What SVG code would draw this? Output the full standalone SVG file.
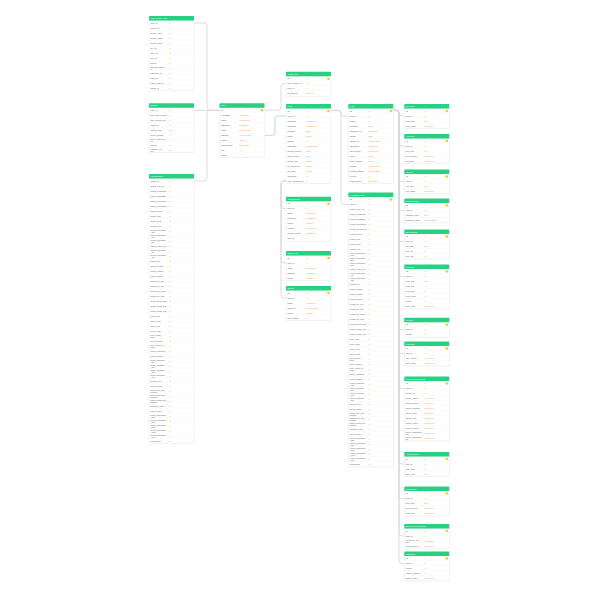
<svg xmlns="http://www.w3.org/2000/svg" width="600" height="600" viewBox="0 0 600 600">
<style>
text{font-family:"Liberation Sans",Arial,sans-serif}
.hd{fill:#27d182}
.ht{fill:#ffffff;font-size:2.2px}
.bd{fill:url(#rows);stroke:#e4e4e4;stroke-width:0.4}
.f{fill:#555;font-size:2.1px}
.s{font-size:1.8px}
.ty{font-size:2.1px}
.i{fill:#f0c640}
.v{fill:#f39a3e}
.t{fill:#3fc2b2}
.cn{fill:none;stroke:#d8d8d8;stroke-width:0.9}
.cb{fill:none;stroke:#b5d5f3;stroke-width:0.9}
</style>
<defs>
<pattern id="rows" x="0" y="4.5" width="45" height="5" patternUnits="userSpaceOnUse">
<rect width="45" height="5" fill="#fff"/>
<line x1="0" y1="4.8" x2="45" y2="4.8" stroke="#f0f0f0" stroke-width="0.4"/>
</pattern>
<circle id="key" r="1.3" fill="#f7c52c"/>
</defs>
<rect width="600" height="600" fill="#fff"/>

<g id="connectors">
<path class="cn" d="M194,23 H204 Q207,23 207,26 V107.3 Q207,110.3 210,110.3 H219.5"/>
<path class="cn" d="M194,110.3 H219.5"/>
<path class="cn" d="M194,181 H204 Q207,181 207,178 V113.3 Q207,110.3 210,110.3 H219.5"/>
<path class="cn" d="M264.5,110.3 H278 Q281,110.3 281,107.3 V86.7 Q281,83.7 284,83.7 H286"/>
<path class="cb" d="M264.5,135.3 H272 Q275,135.3 275,132.3 V119 Q275,116 278,116 H286"/>
<path class="cn" d="M286,181 H284 Q281,181 281,184 V205.7 Q281,208.7 284,208.7 H286"/>
<path class="cn" d="M286,181 H284 Q281,181 281,184 V260 Q281,263 284,263 H286"/>
<path class="cn" d="M286,181 H284 Q281,181 281,184 V295 Q281,298 284,298 H286"/>
<path class="cn" d="M331,110.3 H338 Q341,110.3 341,113.2 Q341,116 344,116 H348.3"/>
<path class="cn" d="M331,110.3 H338 Q341,110.3 341,113.3 V201.5 Q341,204.5 344,204.5 H348.3"/>
<path class="cn" d="M393.3,110.3 H396 Q399,110.3 399,113.2 Q399,116 402,116 H404.3"/>
<path class="cn" d="M393.3,110.3 H396 Q399,110.3 399,113.3 V143 Q399,146 402,146 H404.3"/>
<path class="cn" d="M393.3,110.3 H396 Q399,110.3 399,113.3 V178.5 Q399,181.5 402,181.5 H404.3"/>
<path class="cn" d="M393.3,110.3 H396 Q399,110.3 399,113.3 V207.5 Q399,210.5 402,210.5 H404.3"/>
<path class="cn" d="M393.3,110.3 H396 Q399,110.3 399,113.3 V238.5 Q399,241.5 402,241.5 H404.3"/>
<path class="cn" d="M393.3,110.3 H396 Q399,110.3 399,113.3 V273.5 Q399,276.5 402,276.5 H404.3"/>
<path class="cn" d="M393.3,110.3 H396 Q399,110.3 399,113.3 V326.7 Q399,329.7 402,329.7 H404.3"/>
<path class="cn" d="M393.3,110.3 H396 Q399,110.3 399,113.3 V350.5 Q399,353.5 402,353.5 H404.3"/>
<path class="cn" d="M393.3,110.3 H396 Q399,110.3 399,113.3 V385.5 Q399,388.5 402,388.5 H404.3"/>
<path class="cn" d="M393.3,110.3 H396 Q399,110.3 399,113.3 V461 Q399,464 402,464 H404.3"/>
<path class="cn" d="M393.3,110.3 H396 Q399,110.3 399,113.3 V495.5 Q399,498.5 402,498.5 H404.3"/>
<path class="cn" d="M393.3,110.3 H396 Q399,110.3 399,113.3 V533 Q399,536 402,536 H404.3"/>
<path class="cn" d="M393.3,110.3 H396 Q399,110.3 399,113.3 V560.5 Q399,563.5 402,563.5 H404.3"/>
</g>

<g id="t-user-device" transform="translate(149,16)">
<rect class="bd" y="4.5" width="45" height="70"/>
<rect class="hd" width="45" height="4.5" rx="0.6"/>
<text class="ht" x="1.5" y="3.2">user_device_info</text>
<text class="f"><tspan x="1.5" y="7.75">user_id</tspan><tspan x="1.5" y="12.75">device_id</tspan><tspan x="1.5" y="17.75">device_type</tspan><tspan x="1.5" y="22.75">device_name</tspan><tspan x="1.5" y="27.75">device_mac</tspan><tspan x="1.5" y="32.75">fw_ver</tspan><tspan x="1.5" y="37.75">app_ver</tspan><tspan x="1.5" y="42.75">os_ver</tspan><tspan x="1.5" y="47.75">brand</tspan><tspan class="s" x="1.5" y="51.8">language_setting_</tspan><tspan class="s" x="1.5" y="53.8">id</tspan><tspan x="1.5" y="57.75">timezone_id</tspan><tspan x="1.5" y="62.75">push_id</tspan><tspan x="1.5" y="67.75">push_token_id</tspan><tspan x="1.5" y="72.75">status_id</tspan></text>
<text class="ty"><tspan class="i" x="20" y="7.75">int</tspan><tspan class="i" x="20" y="12.75">int</tspan><tspan class="i" x="20" y="17.75">int</tspan><tspan class="i" x="20" y="22.75">int</tspan><tspan class="i" x="20" y="27.75">int</tspan><tspan class="i" x="20" y="32.75">int</tspan><tspan class="i" x="20" y="37.75">int</tspan><tspan class="i" x="20" y="42.75">int</tspan><tspan class="i" x="20" y="47.75">int</tspan><tspan class="i" x="20" y="52.75">int</tspan><tspan class="i" x="20" y="57.75">int</tspan><tspan class="i" x="20" y="62.75">int</tspan><tspan class="i" x="20" y="67.75">int</tspan><tspan class="i" x="20" y="72.75">int</tspan></text>
</g>

<g id="t-setting" transform="translate(149,103.3)">
<rect class="bd" y="4.5" width="45" height="45"/>
<rect class="hd" width="45" height="4.5" rx="0.6"/>
<text class="ht" x="1.5" y="3.2">Setting</text>
<text class="f"><tspan x="1.5" y="7.75">user_id</tspan><tspan x="1.5" y="12.75">day_remind_hour</tspan><tspan x="1.5" y="17.75">day_remind_min</tspan><tspan x="1.5" y="22.75">unitType</tspan><tspan x="1.5" y="27.75">remind_time</tspan><tspan x="1.5" y="32.75">sleep_remind</tspan><tspan class="s" x="1.5" y="36.8">sleep_remind_time_</tspan><tspan class="s" x="1.5" y="38.8">set</tspan><tspan x="1.5" y="42.75">remind</tspan><tspan class="s" x="1.5" y="46.8">reminder_rule_</tspan><tspan class="s" x="1.5" y="48.8">set</tspan></text>
<text class="ty"><tspan class="i" x="20" y="7.75">int</tspan><tspan class="i" x="20" y="12.75">int</tspan><tspan class="i" x="20" y="17.75">int</tspan><tspan class="i" x="20" y="22.75">int</tspan><tspan class="v" x="20" y="27.75">time</tspan><tspan class="i" x="20" y="32.75">int</tspan><tspan class="i" x="20" y="37.75">int</tspan><tspan class="i" x="20" y="42.75">int</tspan><tspan class="v" x="20" y="47.75">text</tspan></text>
</g>

<g id="t-health-history" transform="translate(149,174)">
<rect class="bd" y="4.5" width="45" height="265"/>
<rect class="hd" width="45" height="4.5" rx="0.6"/>
<text class="ht" x="1.5" y="3.2">HealthHistory</text>
<text class="f"><tspan x="1.5" y="7.75">health_id</tspan><tspan x="1.5" y="12.75">health_user_id</tspan><tspan x="1.5" y="17.75">health_heartRate</tspan><tspan x="1.5" y="22.75">health_bloodO2</tspan><tspan x="1.5" y="27.75">health_sleepTime</tspan><tspan x="1.5" y="32.75">health_deepSleep</tspan><tspan x="1.5" y="37.75">health_steps</tspan><tspan x="1.5" y="42.75">health_dist</tspan><tspan x="1.5" y="47.75">health_kcal</tspan><tspan x="1.5" y="52.75">health_rest</tspan><tspan class="s" x="1.5" y="56.8">health_temperature</tspan><tspan class="s" x="1.5" y="58.8">_max</tspan><tspan class="s" x="1.5" y="61.8">health_temperature</tspan><tspan class="s" x="1.5" y="63.8">_min</tspan><tspan class="s" x="1.5" y="66.8">health_temperature</tspan><tspan class="s" x="1.5" y="68.8">_avg</tspan><tspan x="1.5" y="72.75">health_temp_cur</tspan><tspan class="s" x="1.5" y="76.8">health_temperature</tspan><tspan class="s" x="1.5" y="78.8">_val</tspan><tspan class="s" x="1.5" y="81.8">health_temperature</tspan><tspan class="s" x="1.5" y="83.8">_unit</tspan><tspan x="1.5" y="87.75">health_hrv</tspan><tspan x="1.5" y="92.75">health_stress</tspan><tspan x="1.5" y="97.75">health_fatigue</tspan><tspan x="1.5" y="102.75">health_mood</tspan><tspan x="1.5" y="107.75">health_bp_sys</tspan><tspan x="1.5" y="112.75">health_bp_dia</tspan><tspan x="1.5" y="117.75">health_bp_pulse</tspan><tspan x="1.5" y="122.75">health_bp_time</tspan><tspan x="1.5" y="127.75">health_spo2_max</tspan><tspan x="1.5" y="132.75">health_spo2_min</tspan><tspan x="1.5" y="137.75">health_spo2_avg</tspan><tspan x="1.5" y="142.75">heart_avg</tspan><tspan x="1.5" y="147.75">sleep_start</tspan><tspan x="1.5" y="152.75">sleep_end</tspan><tspan x="1.5" y="157.75">sleep_total</tspan><tspan class="s" x="1.5" y="161.8">sleep_quality_</tspan><tspan class="s" x="1.5" y="163.8">score</tspan><tspan x="1.5" y="167.75">sleep_awake</tspan><tspan class="s" x="1.5" y="171.8">sleep_latency_of_</tspan><tspan class="s" x="1.5" y="173.8">onset</tspan><tspan x="1.5" y="177.75">sleep_efficiency</tspan><tspan x="1.5" y="182.75">sleep_stages</tspan><tspan class="s" x="1.5" y="186.8">health_respiratory</tspan><tspan class="s" x="1.5" y="188.8">_rate</tspan><tspan class="s" x="1.5" y="191.8">health_respiratory</tspan><tspan class="s" x="1.5" y="193.8">_min</tspan><tspan class="s" x="1.5" y="196.8">health_respiratory</tspan><tspan class="s" x="1.5" y="198.8">_max</tspan><tspan class="s" x="1.5" y="201.8">health_respiratory</tspan><tspan class="s" x="1.5" y="203.8">_avg</tspan><tspan x="1.5" y="207.75">stress_level</tspan><tspan x="1.5" y="212.75">stress_score</tspan><tspan class="s" x="1.5" y="216.8">stress_relax_time_</tspan><tspan class="s" x="1.5" y="218.8">minutes</tspan><tspan class="s" x="1.5" y="221.8">stress_tense_time_</tspan><tspan class="s" x="1.5" y="223.8">minutes</tspan><tspan class="s" x="1.5" y="226.8">stress_normal_time_</tspan><tspan class="s" x="1.5" y="228.8">minutes</tspan><tspan x="1.5" y="232.75">measure_time</tspan><tspan x="1.5" y="237.75">sleep_score</tspan><tspan class="s" x="1.5" y="241.8">health_temperature</tspan><tspan class="s" x="1.5" y="243.8">_data</tspan><tspan class="s" x="1.5" y="246.8">health_temperature</tspan><tspan class="s" x="1.5" y="248.8">_skin</tspan><tspan class="s" x="1.5" y="251.8">health_temperature</tspan><tspan class="s" x="1.5" y="253.8">_body</tspan><tspan class="s" x="1.5" y="256.8">health_temperature</tspan><tspan class="s" x="1.5" y="258.8">_room</tspan><tspan class="s" x="1.5" y="261.8">health_temperature</tspan><tspan class="s" x="1.5" y="263.8">_core</tspan><tspan x="1.5" y="267.75">createTime</tspan></text>
<text class="ty"><tspan class="i" x="20" y="7.75">int</tspan><tspan class="i" x="20" y="12.75">int</tspan><tspan class="i" x="20" y="17.75">int</tspan><tspan class="i" x="20" y="22.75">int</tspan><tspan class="i" x="20" y="27.75">int</tspan><tspan class="i" x="20" y="32.75">int</tspan><tspan class="i" x="20" y="37.75">int</tspan><tspan class="i" x="20" y="42.75">int</tspan><tspan class="i" x="20" y="47.75">int</tspan><tspan class="i" x="20" y="52.75">int</tspan><tspan class="i" x="20" y="57.75">int</tspan><tspan class="i" x="20" y="62.75">int</tspan><tspan class="i" x="20" y="67.75">int</tspan><tspan class="i" x="20" y="72.75">int</tspan><tspan class="i" x="20" y="77.75">int</tspan><tspan class="i" x="20" y="82.75">int</tspan><tspan class="i" x="20" y="87.75">int</tspan><tspan class="i" x="20" y="92.75">int</tspan><tspan class="i" x="20" y="97.75">int</tspan><tspan class="i" x="20" y="102.75">int</tspan><tspan class="i" x="20" y="107.75">int</tspan><tspan class="i" x="20" y="112.75">int</tspan><tspan class="i" x="20" y="117.75">int</tspan><tspan class="i" x="20" y="122.75">int</tspan><tspan class="i" x="20" y="127.75">int</tspan><tspan class="i" x="20" y="132.75">int</tspan><tspan class="i" x="20" y="137.75">int</tspan><tspan class="i" x="20" y="142.75">int</tspan><tspan class="i" x="20" y="147.75">int</tspan><tspan class="i" x="20" y="152.75">int</tspan><tspan class="i" x="20" y="157.75">int</tspan><tspan class="i" x="20" y="162.75">int</tspan><tspan class="i" x="20" y="167.75">int</tspan><tspan class="i" x="20" y="172.75">int</tspan><tspan class="i" x="20" y="177.75">int</tspan><tspan class="i" x="20" y="182.75">int</tspan><tspan class="i" x="20" y="187.75">int</tspan><tspan class="i" x="20" y="192.75">int</tspan><tspan class="i" x="20" y="197.75">int</tspan><tspan class="i" x="20" y="202.75">int</tspan><tspan class="i" x="20" y="207.75">int</tspan><tspan class="i" x="20" y="212.75">int</tspan><tspan class="i" x="20" y="217.75">int</tspan><tspan class="i" x="20" y="222.75">int</tspan><tspan class="i" x="20" y="227.75">int</tspan><tspan class="i" x="20" y="232.75">int</tspan><tspan class="i" x="20" y="237.75">int</tspan><tspan class="i" x="20" y="242.75">int</tspan><tspan class="i" x="20" y="247.75">int</tspan><tspan class="i" x="20" y="252.75">int</tspan><tspan class="i" x="20" y="257.75">int</tspan><tspan class="i" x="20" y="262.75">int</tspan><tspan class="i" x="20" y="267.75">int</tspan></text>
</g>

<g id="t-user" transform="translate(219.5,103.3)">
<rect class="bd" y="4.5" width="45" height="50"/>
<rect class="hd" width="45" height="4.5" rx="0.6"/>
<text class="ht" x="1.5" y="3.2">User</text>
<text class="f"><tspan x="1.5" y="7.75">id</tspan><tspan x="1.5" y="12.75">username</tspan><tspan x="1.5" y="17.75">phone</tspan><tspan x="1.5" y="22.75">password</tspan><tspan x="1.5" y="27.75">email</tspan><tspan x="1.5" y="32.75">address</tspan><tspan x="1.5" y="37.75">avatar</tspan><tspan x="1.5" y="42.75">registerTime</tspan><tspan x="1.5" y="47.75">role</tspan><tspan x="1.5" y="52.75">status</tspan></text>
<text class="ty"><tspan class="i" x="20" y="7.75">int</tspan><tspan class="v" x="20" y="12.75">varchar(64)</tspan><tspan class="v" x="20" y="17.75">varchar(32)</tspan><tspan class="v" x="20" y="22.75">varchar(64)</tspan><tspan class="v" x="20" y="27.75">varchar(128)</tspan><tspan class="v" x="20" y="32.75">varchar(128)</tspan><tspan class="v" x="20" y="37.75">image</tspan><tspan class="v" x="20" y="42.75">timestamp</tspan><tspan class="i" x="20" y="47.75">int</tspan><tspan class="i" x="20" y="52.75">int</tspan></text>
<use href="#key" x="42.5" y="7"/>
</g>

<g id="t-user-family" transform="translate(286,71.7)">
<rect class="bd" y="4.5" width="45" height="20"/>
<rect class="hd" width="45" height="4.5" rx="0.6"/>
<text class="ht" x="1.5" y="3.2">UserFamily</text>
<text class="f"><tspan x="1.5" y="7.75">ID</tspan><tspan x="1.5" y="12.75">user_parent_id</tspan><tspan x="1.5" y="17.75">kids_id</tspan><tspan x="1.5" y="22.75">createTime</tspan></text>
<text class="ty"><tspan class="i" x="20" y="7.75">int</tspan><tspan class="i" x="20" y="12.75">int</tspan><tspan class="i" x="20" y="17.75">int</tspan><tspan class="v" x="20" y="22.75">datetime</tspan></text>
<use href="#key" x="42.5" y="7"/>
</g>

<g id="t-kids" transform="translate(286,104)">
<rect class="bd" y="4.5" width="45" height="75"/>
<rect class="hd" width="45" height="4.5" rx="0.6"/>
<text class="ht" x="1.5" y="3.2">Kids</text>
<text class="f"><tspan x="1.5" y="7.75">ID</tspan><tspan x="1.5" y="12.75">user_id</tspan><tspan x="1.5" y="17.75">firstname</tspan><tspan x="1.5" y="22.75">lastname</tspan><tspan x="1.5" y="27.75">birthday</tspan><tspan x="1.5" y="32.75">photo</tspan><tspan x="1.5" y="37.75">gender</tspan><tspan x="1.5" y="42.75">nickname</tspan><tspan x="1.5" y="47.75">height_percent</tspan><tspan x="1.5" y="52.75">skin_percent</tspan><tspan x="1.5" y="57.75">weight_unit</tspan><tspan x="1.5" y="62.75">bp_sensitivity</tspan><tspan x="1.5" y="67.75">bp_value</tspan><tspan x="1.5" y="72.75">resolution</tspan><tspan x="1.5" y="77.75">user_guardian_id</tspan></text>
<text class="ty"><tspan class="i" x="20" y="7.75">int</tspan><tspan class="i" x="20" y="12.75">int</tspan><tspan class="v" x="20" y="17.75">varchar(64)</tspan><tspan class="v" x="20" y="22.75">varchar(64)</tspan><tspan class="t" x="20" y="27.75">date</tspan><tspan class="v" x="20" y="32.75">image</tspan><tspan class="i" x="20" y="37.75">int</tspan><tspan class="v" x="20" y="42.75">varchar(128)</tspan><tspan class="t" x="20" y="47.75">float</tspan><tspan class="t" x="20" y="52.75">float</tspan><tspan class="v" x="20" y="57.75">double</tspan><tspan class="v" x="20" y="62.75">double</tspan><tspan class="v" x="20" y="67.75">double</tspan><tspan class="i" x="20" y="72.75">int</tspan><tspan class="i" x="20" y="77.75">int</tspan></text>
<use href="#key" x="42.5" y="7"/>
</g>

<g id="t-guardian" transform="translate(286,196.7)">
<rect class="bd" y="4.5" width="45" height="40"/>
<rect class="hd" width="45" height="4.5" rx="0.6"/>
<text class="ht" x="1.5" y="3.2">GuardianInfo</text>
<text class="f"><tspan x="1.5" y="7.75">ID</tspan><tspan x="1.5" y="12.75">kids_id</tspan><tspan x="1.5" y="17.75">name</tspan><tspan x="1.5" y="22.75">nickname</tspan><tspan x="1.5" y="27.75">phone</tspan><tspan x="1.5" y="32.75">relation</tspan><tspan x="1.5" y="37.75">contact_phone</tspan><tspan x="1.5" y="42.75">face_id</tspan></text>
<text class="ty"><tspan class="i" x="20" y="7.75">int</tspan><tspan class="i" x="20" y="12.75">int</tspan><tspan class="v" x="20" y="17.75">varchar(64)</tspan><tspan class="v" x="20" y="22.75">varchar(64)</tspan><tspan class="v" x="20" y="27.75">varchar</tspan><tspan class="v" x="20" y="32.75">varchar(64)</tspan><tspan class="v" x="20" y="37.75">varchar(64)</tspan><tspan class="i" x="20" y="42.75">int</tspan></text>
<use href="#key" x="42.5" y="7"/>
</g>

<g id="t-emergency" transform="translate(286,251)">
<rect class="bd" y="4.5" width="45" height="25"/>
<rect class="hd" width="45" height="4.5" rx="0.6"/>
<text class="ht" x="1.5" y="3.2">Emergency</text>
<text class="f"><tspan x="1.5" y="7.75">ID</tspan><tspan x="1.5" y="12.75">kids_id</tspan><tspan x="1.5" y="17.75">name</tspan><tspan x="1.5" y="22.75">address</tspan><tspan x="1.5" y="27.75">phone</tspan></text>
<text class="ty"><tspan class="i" x="20" y="7.75">int</tspan><tspan class="i" x="20" y="12.75">int</tspan><tspan class="v" x="20" y="17.75">varchar(64)</tspan><tspan class="v" x="20" y="22.75">varchar(64)</tspan><tspan class="v" x="20" y="27.75">varchar</tspan></text>
<use href="#key" x="42.5" y="7"/>
</g>

<g id="t-doctor" transform="translate(286,286)">
<rect class="bd" y="4.5" width="45" height="30"/>
<rect class="hd" width="45" height="4.5" rx="0.6"/>
<text class="ht" x="1.5" y="3.2">Doctor</text>
<text class="f"><tspan x="1.5" y="7.75">ID</tspan><tspan x="1.5" y="12.75">kids_id</tspan><tspan x="1.5" y="17.75">name</tspan><tspan x="1.5" y="22.75">address</tspan><tspan x="1.5" y="27.75">phone</tspan><tspan x="1.5" y="32.75">hos_contact</tspan></text>
<text class="ty"><tspan class="i" x="20" y="7.75">int</tspan><tspan class="i" x="20" y="12.75">int</tspan><tspan class="v" x="20" y="17.75">varchar(64)</tspan><tspan class="v" x="20" y="22.75">varchar(128)</tspan><tspan class="v" x="20" y="27.75">varchar</tspan><tspan class="i" x="20" y="32.75">int</tspan></text>
<use href="#key" x="42.5" y="7"/>
</g>

<g id="t-face" transform="translate(348.3,104)">
<rect class="bd" y="4.5" width="45" height="75"/>
<rect class="hd" width="45" height="4.5" rx="0.6"/>
<text class="ht" x="1.5" y="3.2">Face</text>
<text class="f"><tspan x="1.5" y="7.75">ID</tspan><tspan x="1.5" y="12.75">kids_id</tspan><tspan x="1.5" y="17.75">status</tspan><tspan x="1.5" y="22.75">faceDate</tspan><tspan x="1.5" y="27.75">faceDate_txt</tspan><tspan x="1.5" y="32.75">faceID</tspan><tspan x="1.5" y="37.75">faceID_txt</tspan><tspan x="1.5" y="42.75">faceName</tspan><tspan x="1.5" y="47.75">faceFeature</tspan><tspan x="1.5" y="52.75">photo</tspan><tspan x="1.5" y="57.75">photo_thumb</tspan><tspan x="1.5" y="62.75">remark</tspan><tspan x="1.5" y="67.75">remark_display</tspan><tspan x="1.5" y="72.75">reserve</tspan><tspan x="1.5" y="77.75">registerTime</tspan></text>
<text class="ty"><tspan class="i" x="20" y="7.75">int</tspan><tspan class="i" x="20" y="12.75">int</tspan><tspan class="i" x="20" y="17.75">int</tspan><tspan class="t" x="20" y="22.75">date</tspan><tspan class="v" x="20" y="27.75">varchar(64)</tspan><tspan class="t" x="20" y="32.75">blob</tspan><tspan class="v" x="20" y="37.75">varchar(128)</tspan><tspan class="v" x="20" y="42.75">varchar(64)</tspan><tspan class="v" x="20" y="47.75">varchar(64)</tspan><tspan class="v" x="20" y="52.75">image</tspan><tspan class="v" x="20" y="57.75">image</tspan><tspan class="v" x="20" y="62.75">varchar(128)</tspan><tspan class="v" x="20" y="67.75">varchar(128)</tspan><tspan class="i" x="20" y="72.75">int</tspan><tspan class="v" x="20" y="77.75">timestamp</tspan></text>
<use href="#key" x="42.5" y="7"/>
</g>

<g id="t-health-records" transform="translate(348.3,192.5)">
<rect class="bd" y="4.5" width="45" height="270"/>
<rect class="hd" width="45" height="4.5" rx="0.6"/>
<text class="ht" x="1.5" y="3.2">HealthRecords</text>
<text class="f"><tspan x="1.5" y="7.75">ID</tspan><tspan x="1.5" y="12.75">kids_id</tspan><tspan x="1.5" y="17.75">record_user_id</tspan><tspan x="1.5" y="22.75">record_heartRate</tspan><tspan x="1.5" y="27.75">record_bloodO2</tspan><tspan x="1.5" y="32.75">record_sleepTime</tspan><tspan x="1.5" y="37.75">record_deepSleep</tspan><tspan x="1.5" y="42.75">record_steps</tspan><tspan x="1.5" y="47.75">record_dist</tspan><tspan x="1.5" y="52.75">record_kcal</tspan><tspan x="1.5" y="57.75">record_rest</tspan><tspan class="s" x="1.5" y="61.8">record_temperature</tspan><tspan class="s" x="1.5" y="63.8">_max</tspan><tspan class="s" x="1.5" y="66.8">record_temperature</tspan><tspan class="s" x="1.5" y="68.8">_min</tspan><tspan class="s" x="1.5" y="71.8">record_temperature</tspan><tspan class="s" x="1.5" y="73.8">_avg</tspan><tspan x="1.5" y="77.75">record_temp_cur</tspan><tspan class="s" x="1.5" y="81.8">record_temperature</tspan><tspan class="s" x="1.5" y="83.8">_val</tspan><tspan class="s" x="1.5" y="86.8">record_temperature</tspan><tspan class="s" x="1.5" y="88.8">_unit</tspan><tspan x="1.5" y="92.75">record_hrv</tspan><tspan x="1.5" y="97.75">record_stress</tspan><tspan x="1.5" y="102.75">record_fatigue</tspan><tspan x="1.5" y="107.75">record_mood</tspan><tspan x="1.5" y="112.75">record_bp_sys</tspan><tspan x="1.5" y="117.75">record_bp_dia</tspan><tspan x="1.5" y="122.75">record_bp_pulse</tspan><tspan x="1.5" y="127.75">record_bp_time</tspan><tspan x="1.5" y="132.75">record_spo2_max</tspan><tspan x="1.5" y="137.75">record_spo2_min</tspan><tspan x="1.5" y="142.75">record_spo2_avg</tspan><tspan x="1.5" y="147.75">heart_avg</tspan><tspan x="1.5" y="152.75">sleep_start</tspan><tspan x="1.5" y="157.75">sleep_end</tspan><tspan x="1.5" y="162.75">sleep_total</tspan><tspan class="s" x="1.5" y="166.8">sleep_quality_</tspan><tspan class="s" x="1.5" y="168.8">score</tspan><tspan x="1.5" y="172.75">sleep_awake</tspan><tspan class="s" x="1.5" y="176.8">sleep_latency_of_</tspan><tspan class="s" x="1.5" y="178.8">onset</tspan><tspan x="1.5" y="182.75">sleep_efficiency</tspan><tspan x="1.5" y="187.75">sleep_stages</tspan><tspan class="s" x="1.5" y="191.8">record_respiratory</tspan><tspan class="s" x="1.5" y="193.8">_rate</tspan><tspan class="s" x="1.5" y="196.8">record_respiratory</tspan><tspan class="s" x="1.5" y="198.8">_min</tspan><tspan class="s" x="1.5" y="201.8">record_respiratory</tspan><tspan class="s" x="1.5" y="203.8">_max</tspan><tspan class="s" x="1.5" y="206.8">record_respiratory</tspan><tspan class="s" x="1.5" y="208.8">_avg</tspan><tspan x="1.5" y="212.75">stress_level</tspan><tspan x="1.5" y="217.75">stress_score</tspan><tspan class="s" x="1.5" y="221.8">stress_relax_time_</tspan><tspan class="s" x="1.5" y="223.8">minutes</tspan><tspan class="s" x="1.5" y="226.8">stress_tense_time_</tspan><tspan class="s" x="1.5" y="228.8">minutes</tspan><tspan class="s" x="1.5" y="231.8">stress_normal_time_</tspan><tspan class="s" x="1.5" y="233.8">minutes</tspan><tspan x="1.5" y="237.75">measure_time</tspan><tspan x="1.5" y="242.75">sleep_score</tspan><tspan class="s" x="1.5" y="246.8">record_temperature</tspan><tspan class="s" x="1.5" y="248.8">_data</tspan><tspan class="s" x="1.5" y="251.8">record_temperature</tspan><tspan class="s" x="1.5" y="253.8">_skin</tspan><tspan class="s" x="1.5" y="256.8">record_temperature</tspan><tspan class="s" x="1.5" y="258.8">_body</tspan><tspan class="s" x="1.5" y="261.8">record_temperature</tspan><tspan class="s" x="1.5" y="263.8">_room</tspan><tspan class="s" x="1.5" y="266.8">record_temperature</tspan><tspan class="s" x="1.5" y="268.8">_core</tspan><tspan x="1.5" y="272.75">createTime</tspan></text>
<text class="ty"><tspan class="i" x="20" y="7.75">int</tspan><tspan class="i" x="20" y="12.75">int</tspan><tspan class="i" x="20" y="17.75">int</tspan><tspan class="i" x="20" y="22.75">int</tspan><tspan class="i" x="20" y="27.75">int</tspan><tspan class="i" x="20" y="32.75">int</tspan><tspan class="i" x="20" y="37.75">int</tspan><tspan class="i" x="20" y="42.75">int</tspan><tspan class="i" x="20" y="47.75">int</tspan><tspan class="i" x="20" y="52.75">int</tspan><tspan class="i" x="20" y="57.75">int</tspan><tspan class="i" x="20" y="62.75">int</tspan><tspan class="i" x="20" y="67.75">int</tspan><tspan class="i" x="20" y="72.75">int</tspan><tspan class="i" x="20" y="77.75">int</tspan><tspan class="i" x="20" y="82.75">int</tspan><tspan class="i" x="20" y="87.75">int</tspan><tspan class="i" x="20" y="92.75">int</tspan><tspan class="i" x="20" y="97.75">int</tspan><tspan class="i" x="20" y="102.75">int</tspan><tspan class="i" x="20" y="107.75">int</tspan><tspan class="i" x="20" y="112.75">int</tspan><tspan class="i" x="20" y="117.75">int</tspan><tspan class="i" x="20" y="122.75">int</tspan><tspan class="i" x="20" y="127.75">int</tspan><tspan class="i" x="20" y="132.75">int</tspan><tspan class="i" x="20" y="137.75">int</tspan><tspan class="i" x="20" y="142.75">int</tspan><tspan class="i" x="20" y="147.75">int</tspan><tspan class="i" x="20" y="152.75">int</tspan><tspan class="i" x="20" y="157.75">int</tspan><tspan class="i" x="20" y="162.75">int</tspan><tspan class="i" x="20" y="167.75">int</tspan><tspan class="i" x="20" y="172.75">int</tspan><tspan class="i" x="20" y="177.75">int</tspan><tspan class="i" x="20" y="182.75">int</tspan><tspan class="i" x="20" y="187.75">int</tspan><tspan class="i" x="20" y="192.75">int</tspan><tspan class="i" x="20" y="197.75">int</tspan><tspan class="i" x="20" y="202.75">int</tspan><tspan class="i" x="20" y="207.75">int</tspan><tspan class="i" x="20" y="212.75">int</tspan><tspan class="i" x="20" y="217.75">int</tspan><tspan class="i" x="20" y="222.75">int</tspan><tspan class="i" x="20" y="227.75">int</tspan><tspan class="i" x="20" y="232.75">int</tspan><tspan class="i" x="20" y="237.75">int</tspan><tspan class="i" x="20" y="242.75">int</tspan><tspan class="i" x="20" y="247.75">int</tspan><tspan class="i" x="20" y="252.75">int</tspan><tspan class="i" x="20" y="257.75">int</tspan><tspan class="i" x="20" y="262.75">int</tspan><tspan class="i" x="20" y="267.75">int</tspan><tspan class="i" x="20" y="272.75">int</tspan></text>
<use href="#key" x="42.5" y="7"/>
</g>

<g id="t-medicine" transform="translate(404.3,104)">
<rect class="bd" y="4.5" width="45" height="20"/>
<rect class="hd" width="45" height="4.5" rx="0.6"/>
<text class="ht" x="1.5" y="3.2">Medicine</text>
<text class="f"><tspan x="1.5" y="7.75">ID</tspan><tspan x="1.5" y="12.75">kids_id</tspan><tspan x="1.5" y="17.75">med_date</tspan><tspan x="1.5" y="22.75">med_name</tspan></text>
<text class="ty"><tspan class="i" x="20" y="7.75">int</tspan><tspan class="i" x="20" y="12.75">int</tspan><tspan class="v" x="20" y="17.75">date</tspan><tspan class="v" x="20" y="22.75">varchar(64)</tspan></text>
<use href="#key" x="42.5" y="7"/>
</g>

<g id="t-allergies" transform="translate(404.3,134)">
<rect class="bd" y="4.5" width="45" height="25"/>
<rect class="hd" width="45" height="4.5" rx="0.6"/>
<text class="ht" x="1.5" y="3.2">Allergies</text>
<text class="f"><tspan x="1.5" y="7.75">ID</tspan><tspan x="1.5" y="12.75">kids_id</tspan><tspan x="1.5" y="17.75">allg_type</tspan><tspan x="1.5" y="22.75">allg_content</tspan><tspan x="1.5" y="27.75">allg_note</tspan></text>
<text class="ty"><tspan class="i" x="20" y="7.75">int</tspan><tspan class="i" x="20" y="12.75">int</tspan><tspan class="v" x="20" y="17.75">text</tspan><tspan class="v" x="20" y="22.75">varchar(64)</tspan><tspan class="v" x="20" y="27.75">varchar(64)</tspan></text>
<use href="#key" x="42.5" y="7"/>
</g>

<g id="t-vaccine" transform="translate(404.3,169.5)">
<rect class="bd" y="4.5" width="45" height="20"/>
<rect class="hd" width="45" height="4.5" rx="0.6"/>
<text class="ht" x="1.5" y="3.2">Vaccine</text>
<text class="f"><tspan x="1.5" y="7.75">ID</tspan><tspan x="1.5" y="12.75">kids_id</tspan><tspan x="1.5" y="17.75">vac_date</tspan><tspan x="1.5" y="22.75">vac_name</tspan></text>
<text class="ty"><tspan class="i" x="20" y="7.75">int</tspan><tspan class="i" x="20" y="12.75">int</tspan><tspan class="v" x="20" y="17.75">date</tspan><tspan class="v" x="20" y="22.75">varchar(64)</tspan></text>
<use href="#key" x="42.5" y="7"/>
</g>

<g id="t-body-measure" transform="translate(404.3,198.5)">
<rect class="bd" y="4.5" width="45" height="20"/>
<rect class="hd" width="45" height="4.5" rx="0.6"/>
<text class="ht" x="1.5" y="3.2">BodyMeasure</text>
<text class="f"><tspan x="1.5" y="7.75">ID</tspan><tspan x="1.5" y="12.75">kids_id</tspan><tspan x="1.5" y="17.75">measure_date</tspan><tspan x="1.5" y="22.75">measure_detail</tspan></text>
<text class="ty"><tspan class="i" x="20" y="7.75">int</tspan><tspan class="i" x="20" y="12.75">int</tspan><tspan class="v" x="20" y="17.75">date</tspan><tspan class="v" x="20" y="22.75">varchar(128)</tspan></text>
<use href="#key" x="42.5" y="7"/>
</g>

<g id="t-blood-sugar" transform="translate(404.3,229.5)">
<rect class="bd" y="4.5" width="45" height="25"/>
<rect class="hd" width="45" height="4.5" rx="0.6"/>
<text class="ht" x="1.5" y="3.2">BloodSugar</text>
<text class="f"><tspan x="1.5" y="7.75">ID</tspan><tspan x="1.5" y="12.75">kids_id</tspan><tspan x="1.5" y="17.75">sug_date</tspan><tspan x="1.5" y="22.75">sug_val</tspan><tspan x="1.5" y="27.75">sug_unit</tspan></text>
<text class="ty"><tspan class="i" x="20" y="7.75">int</tspan><tspan class="i" x="20" y="12.75">int</tspan><tspan class="v" x="20" y="17.75">date</tspan><tspan class="i" x="20" y="22.75">int</tspan><tspan class="i" x="20" y="27.75">int</tspan></text>
<use href="#key" x="42.5" y="7"/>
</g>

<g id="t-pressure" transform="translate(404.3,264.5)">
<rect class="bd" y="4.5" width="45" height="40"/>
<rect class="hd" width="45" height="4.5" rx="0.6"/>
<text class="ht" x="1.5" y="3.2">Pressure</text>
<text class="f"><tspan x="1.5" y="7.75">ID</tspan><tspan x="1.5" y="12.75">kids_id</tspan><tspan x="1.5" y="17.75">pres_date</tspan><tspan x="1.5" y="22.75">pres_sys</tspan><tspan x="1.5" y="27.75">pres_dia</tspan><tspan x="1.5" y="32.75">pres_pulse</tspan><tspan x="1.5" y="37.75">status</tspan><tspan x="1.5" y="42.75">pres_note</tspan></text>
<text class="ty"><tspan class="i" x="20" y="7.75">int</tspan><tspan class="i" x="20" y="12.75">int</tspan><tspan class="v" x="20" y="17.75">date</tspan><tspan class="i" x="20" y="22.75">int</tspan><tspan class="i" x="20" y="27.75">int</tspan><tspan class="i" x="20" y="32.75">int</tspan><tspan class="i" x="20" y="37.75">int</tspan><tspan class="v" x="20" y="42.75">varchar(64)</tspan></text>
<use href="#key" x="42.5" y="7"/>
</g>

<g id="t-weight" transform="translate(404.3,317.7)">
<rect class="bd" y="4.5" width="45" height="15"/>
<rect class="hd" width="45" height="4.5" rx="0.6"/>
<text class="ht" x="1.5" y="3.2">Weight</text>
<text class="f"><tspan x="1.5" y="7.75">ID</tspan><tspan x="1.5" y="12.75">kids_id</tspan><tspan x="1.5" y="17.75">weight</tspan></text>
<text class="ty"><tspan class="i" x="20" y="7.75">int</tspan><tspan class="i" x="20" y="12.75">int</tspan><tspan class="i" x="20" y="17.75">int</tspan></text>
<use href="#key" x="42.5" y="7"/>
</g>

<g id="t-contacts" transform="translate(404.3,341.5)">
<rect class="bd" y="4.5" width="45" height="20"/>
<rect class="hd" width="45" height="4.5" rx="0.6"/>
<text class="ht" x="1.5" y="3.2">Contacts</text>
<text class="f"><tspan x="1.5" y="7.75">ID</tspan><tspan x="1.5" y="12.75">kids_id</tspan><tspan x="1.5" y="17.75">cont_phone</tspan><tspan x="1.5" y="22.75">cont_name</tspan></text>
<text class="ty"><tspan class="i" x="20" y="7.75">int</tspan><tspan class="i" x="20" y="12.75">int</tspan><tspan class="v" x="20" y="17.75">varchar(64)</tspan><tspan class="v" x="20" y="22.75">varchar(64)</tspan></text>
<use href="#key" x="42.5" y="7"/>
</g>

<g id="t-consultation" transform="translate(404.3,376.5)">
<rect class="bd" y="4.5" width="45" height="60"/>
<rect class="hd" width="45" height="4.5" rx="0.6"/>
<text class="ht" x="1.5" y="3.2">MedicalConsultation</text>
<text class="f"><tspan x="1.5" y="7.75">ID</tspan><tspan x="1.5" y="12.75">kids_id</tspan><tspan x="1.5" y="17.75">doctor_id</tspan><tspan x="1.5" y="22.75">doctor_name</tspan><tspan x="1.5" y="27.75">doctor_phone</tspan><tspan x="1.5" y="32.75">doctor_hospital</tspan><tspan x="1.5" y="37.75">doctor_dept</tspan><tspan x="1.5" y="42.75">doctor_visit</tspan><tspan x="1.5" y="47.75">doctor_notes</tspan><tspan x="1.5" y="52.75">doctor_advice</tspan><tspan class="s" x="1.5" y="56.8">doctor_consultation_</tspan><tspan class="s" x="1.5" y="58.8">time</tspan><tspan class="s" x="1.5" y="61.8">doctor_consultation_</tspan><tspan class="s" x="1.5" y="63.8">file</tspan></text>
<text class="ty"><tspan class="i" x="20" y="7.75">int</tspan><tspan class="i" x="20" y="12.75">int</tspan><tspan class="i" x="20" y="17.75">int</tspan><tspan class="v" x="20" y="22.75">varchar(64)</tspan><tspan class="v" x="20" y="27.75">varchar(64)</tspan><tspan class="v" x="20" y="32.75">varchar(64)</tspan><tspan class="v" x="20" y="37.75">varchar(64)</tspan><tspan class="v" x="20" y="42.75">varchar(64)</tspan><tspan class="v" x="20" y="47.75">varchar(64)</tspan><tspan class="v" x="20" y="52.75">varchar(64)</tspan><tspan class="v" x="20" y="57.75">varchar(64)</tspan><tspan class="v" x="20" y="62.75">varchar(64)</tspan></text>
<use href="#key" x="42.5" y="7"/>
</g>

<g id="t-appointment" transform="translate(404.3,452)">
<rect class="bd" y="4.5" width="45" height="20"/>
<rect class="hd" width="45" height="4.5" rx="0.6"/>
<text class="ht" x="1.5" y="3.2">Appointment</text>
<text class="f"><tspan x="1.5" y="7.75">ID</tspan><tspan x="1.5" y="12.75">kids_id</tspan><tspan x="1.5" y="17.75">appt_time</tspan><tspan x="1.5" y="22.75">appt_note</tspan></text>
<text class="ty"><tspan class="i" x="20" y="7.75">int</tspan><tspan class="i" x="20" y="12.75">int</tspan><tspan class="i" x="20" y="17.75">int</tspan><tspan class="v" x="20" y="22.75">text</tspan></text>
<use href="#key" x="42.5" y="7"/>
</g>

<g id="t-symptoms" transform="translate(404.3,486.5)">
<rect class="bd" y="4.5" width="45" height="25"/>
<rect class="hd" width="45" height="4.5" rx="0.6"/>
<text class="ht" x="1.5" y="3.2">Symptoms</text>
<text class="f"><tspan x="1.5" y="7.75">ID</tspan><tspan x="1.5" y="12.75">kids_id</tspan><tspan x="1.5" y="17.75">sym_date</tspan><tspan x="1.5" y="22.75">sym_content</tspan><tspan x="1.5" y="27.75">sym_note</tspan></text>
<text class="ty"><tspan class="i" x="20" y="7.75">int</tspan><tspan class="i" x="20" y="12.75">int</tspan><tspan class="v" x="20" y="17.75">date</tspan><tspan class="v" x="20" y="22.75">varchar(64)</tspan><tspan class="v" x="20" y="27.75">varchar(64)</tspan></text>
<use href="#key" x="42.5" y="7"/>
</g>

<g id="t-emergency-contacts" transform="translate(404.3,524)">
<rect class="bd" y="4.5" width="45" height="20"/>
<rect class="hd" width="45" height="4.5" rx="0.6"/>
<text class="ht" x="1.5" y="3.2">EmergencyContacts</text>
<text class="f"><tspan x="1.5" y="7.75">ID</tspan><tspan x="1.5" y="12.75">kids_id</tspan><tspan class="s" x="1.5" y="16.8">emergency_con</tspan><tspan class="s" x="1.5" y="18.8">tact</tspan><tspan x="1.5" y="22.75">emergency_tel</tspan></text>
<text class="ty"><tspan class="i" x="20" y="7.75">int</tspan><tspan class="i" x="20" y="12.75">int</tspan><tspan class="v" x="20" y="17.75">varchar(64)</tspan><tspan class="v" x="20" y="22.75">varchar(64)</tspan></text>
<use href="#key" x="42.5" y="7"/>
</g>

<g id="t-insurance" transform="translate(404.3,551.5)">
<rect class="bd" y="4.5" width="45" height="25"/>
<rect class="hd" width="45" height="4.5" rx="0.6"/>
<text class="ht" x="1.5" y="3.2">Insurance</text>
<text class="f"><tspan x="1.5" y="7.75">ID</tspan><tspan x="1.5" y="12.75">kids_id</tspan><tspan x="1.5" y="17.75">insurer</tspan><tspan x="1.5" y="22.75">insurer_number</tspan><tspan x="1.5" y="27.75">insurer_date</tspan></text>
<text class="ty"><tspan class="i" x="20" y="7.75">int</tspan><tspan class="i" x="20" y="12.75">int</tspan><tspan class="i" x="20" y="17.75">int</tspan><tspan class="i" x="20" y="22.75">int</tspan><tspan class="v" x="20" y="27.75">varchar(64)</tspan></text>
<use href="#key" x="42.5" y="7"/>
</g>
</svg>
